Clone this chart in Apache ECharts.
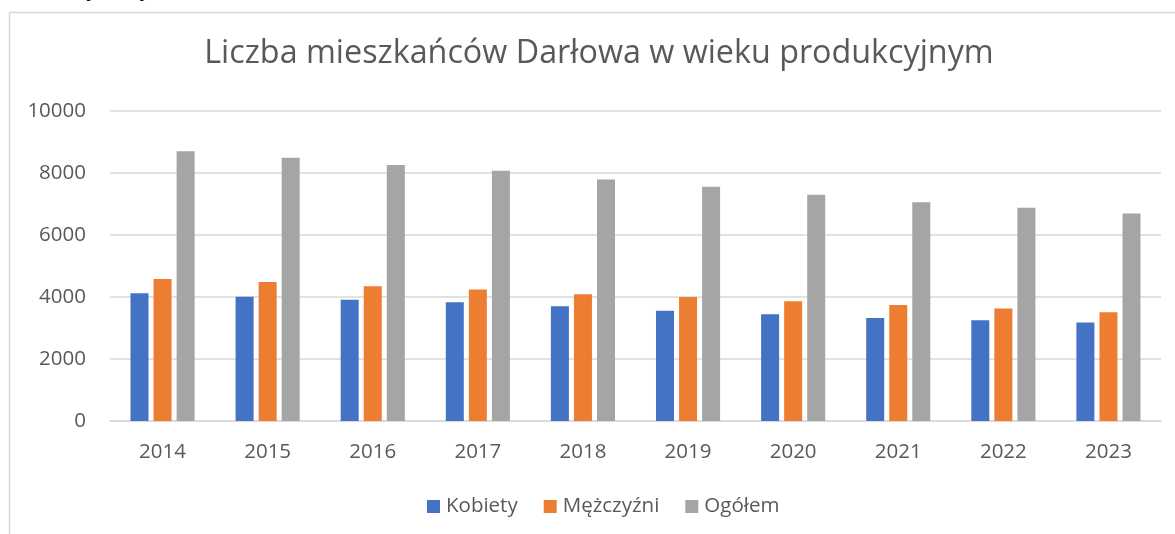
<!DOCTYPE html>
<html>
<head>
<meta charset="utf-8">
<script src="https://cdn.jsdelivr.net/npm/echarts@6/dist/echarts.min.js"></script>
<style>
html,body{margin:0;padding:0;background:#fff;}
#c{width:1175px;height:534px;}
</style>
</head>
<body>
<div id="c"></div>
<script>
const titleText = 'Liczba mieszkańców Darłowa w wieku produkcyjnym';
const years = ['2014','2015','2016','2017','2018','2019','2020','2021','2022','2023'];
const seriesNames = ['Kobiety','Mężczyźni','Ogółem'];
const kobiety = [4120, 4010, 3910, 3830, 3700, 3560, 3440, 3320, 3250, 3180];
const mezczyzni = [4580, 4480, 4350, 4240, 4090, 4000, 3860, 3740, 3630, 3510];
const ogolem = [8700, 8490, 8260, 8070, 7790, 7560, 7300, 7060, 6880, 6690];
const colors = ['#4472C4', '#ED7D31', '#A5A5A5'];

const FONT = '"Open Sans", "DejaVu Sans", sans-serif';
const TXT = '#595959';

const chart = echarts.init(document.getElementById('c'), null, {renderer: 'canvas'});
const values = [kobiety, mezczyzni, ogolem];
chart.setOption({
  animation: false,
  backgroundColor: '#ffffff',
  color: colors,
  title: {
    text: titleText,
    left: 599,
    textAlign: 'center',
    top: 38,
    padding: 0,
    textStyle: {fontFamily: FONT, fontSize: 32.3, fontWeight: 'normal', color: TXT}
  },
  legend: {
    left: 427,
    top: 496,
    padding: 0,
    itemWidth: 13,
    itemHeight: 13,
    itemGap: 26,
    icon: 'rect',
    textStyle: {fontFamily: FONT, fontSize: 20.5, color: TXT, padding: [0,0,0,1]},
    data: seriesNames
  },
  grid: {left: 110, right: 14, top: 111, bottom: 113, containLabel: false},
  xAxis: {
    type: 'category',
    data: years,
    axisLine: {lineStyle: {color: '#d9d9d9', width: 1.5}},
    axisTick: {show: false},
    axisLabel: {fontFamily: FONT, fontSize: 20.5, color: TXT, margin: 21}
  },
  yAxis: {
    type: 'value',
    min: 0,
    max: 10000,
    interval: 2000,
    axisLine: {show: false},
    axisTick: {show: false},
    splitLine: {lineStyle: {color: '#d9d9d9', width: 1.5}},
    axisLabel: {fontFamily: FONT, fontSize: 20.5, color: TXT, margin: 24, formatter: v => String(v)}
  },
  series: seriesNames.map((n, i) => ({
    name: n,
    type: 'bar',
    data: values[i],
    barGap: '28%',
    barCategoryGap: '39%'
  })),
  graphic: [
    {
      type: 'rect',
      silent: true,
      shape: {x: 9.5, y: 12.5, width: 1300, height: 700},
      style: {fill: 'none', stroke: '#d9d9d9', lineWidth: 1.5},
      z: -10
    },
    {
      type: 'text',
      silent: true,
      x: 88, y: -21,
      style: {text: 'j', font: '22px ' + FONT, fill: '#000', verticalAlign: 'top'}
    },
    {
      type: 'text',
      silent: true,
      x: 140, y: -21,
      style: {text: 'y', font: '22px ' + FONT, fill: '#000', verticalAlign: 'top'}
    }
  ]
});
</script>
</body>
</html>
